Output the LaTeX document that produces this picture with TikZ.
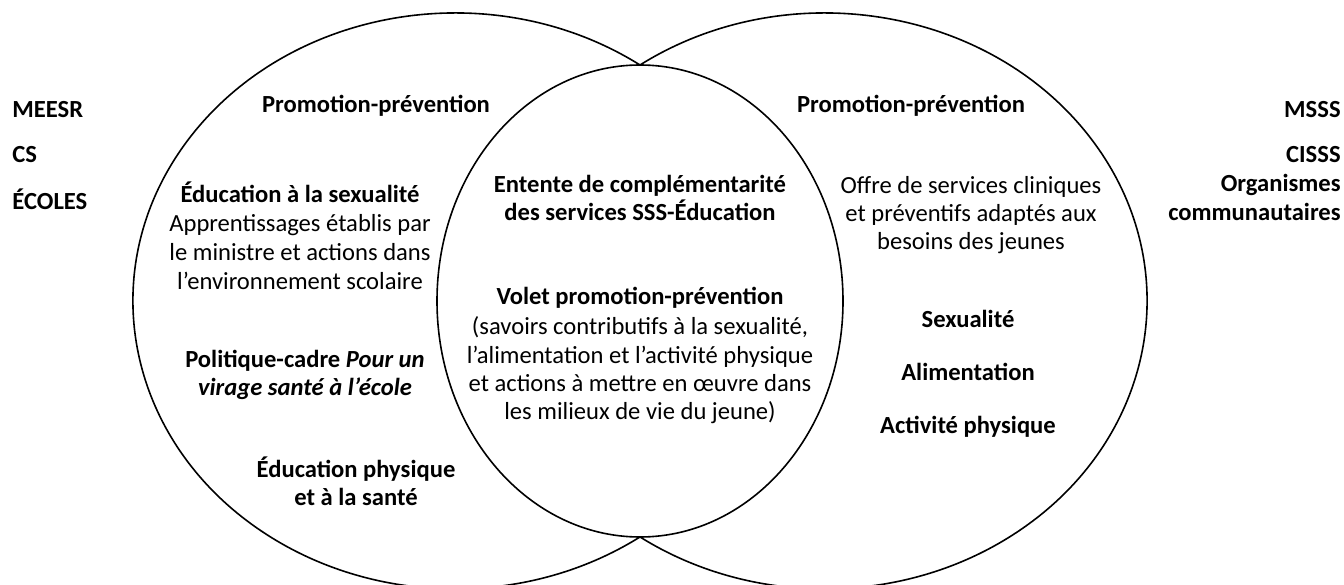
\documentclass[tikz,border=0pt]{standalone}
\usepackage{fontspec}
\setmainfont{Carlito}
\begin{document}
\begin{tikzpicture}[x=0.5pt,y=0.5pt,
  txt/.style={inner sep=0pt,anchor=base,font=\fontsize{12.3}{14.5}\selectfont},
  bt/.style={inner sep=0pt,anchor=base,font=\fontsize{12.3}{14.5}\selectfont\bfseries},
  ring/.style={line width=0.8pt}]
\useasboundingbox (0,0) rectangle (1344,584);
% junctions and shapes
\coordinate (jt) at (640,519);
\coordinate (mc) at (640,283);
\draw[ring] (jt) arc[start angle=55.02,end angle=304.98,x radius=322.3,y radius=288];
\draw[ring] (jt) arc[start angle=124.98,end angle=-124.98,x radius=322.3,y radius=288];
\draw[ring] (mc) ellipse[x radius=203,y radius=236];
% outer labels
\node[bt,anchor=base west] (meesr) at (12,466) {MEESR};
\node[bt,anchor=base west] (cs) at (12,421) {CS};
\node[bt,anchor=base west] (ecoles) at (12,374) {ÉCOLES};
\node[bt,anchor=base east] (msss) at (1341,466) {MSSS};
\node[bt,anchor=base east] (cisss) at (1341,421) {CISSS};
\node[bt,anchor=base east] (org1) at (1341,392) {Organismes};
\node[bt,anchor=base east] (org2) at (1341,363) {communautaires};
% left circle
\node[bt] (lpromo) at (376,471) {Promotion-prévention};
\node[bt] (lsex) at (300,381) {Éducation à la sexualité};
\node[txt] (lsex1) at (300,352) {Apprentissages établis par};
\node[txt] (lsex2) at (300,323) {le ministre et actions dans};
\node[txt] (lsex3) at (300,294) {l’environnement scolaire};
\node[bt] (lpol1) at (305,216) {Politique-cadre \textit{Pour un}};
\node[bt] (lpol2) at (305,188) {\textit{virage santé à l’école}};
\node[bt] (leps1) at (356,106) {Éducation physique};
\node[bt] (leps2) at (356,78) {et à la santé};
% middle
\node[bt] (ment1) at (640,391) {Entente de complémentarité};
\node[bt] (ment2) at (640,363) {des services SSS-Éducation};
\node[bt] (mvol) at (640,279) {Volet promotion-prévention};
\node[txt] (mvol1) at (640,249) {(savoirs contributifs à la sexualité,};
\node[txt] (mvol2) at (640,220) {l’alimentation et l’activité physique};
\node[txt] (mvol3) at (640,192) {et actions à mettre en œuvre dans};
\node[txt] (mvol4) at (640,164) {les milieux de vie du jeune)};
% right circle
\node[bt] (rpromo) at (911,471) {Promotion-prévention};
\node[txt] (roff1) at (971,390) {Offre de services cliniques};
\node[txt] (roff2) at (971,362) {et préventifs adaptés aux};
\node[txt] (roff3) at (971,334) {besoins des jeunes};
\node[bt] (rsex) at (968,256) {Sexualité};
\node[bt] (rali) at (968,203) {Alimentation};
\node[bt] (ract) at (968,150) {Activité physique};
\end{tikzpicture}
\end{document}
